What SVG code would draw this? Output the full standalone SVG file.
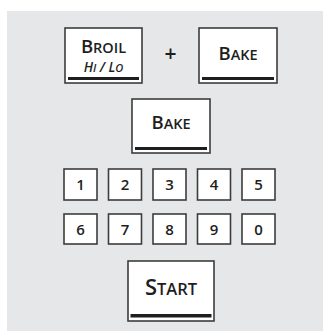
<svg xmlns="http://www.w3.org/2000/svg" width="323" height="331" viewBox="0 0 323 331">
<style>
.key{fill:#ffffff;stroke:#3c3c3c;stroke-width:1.6}
.bar{fill:#1e1e1e}
.t{font-family:"Open Sans","DejaVu Sans",sans-serif;fill:#1e1e1e;text-anchor:middle;font-weight:600}
.n{font-family:"Open Sans","DejaVu Sans",sans-serif;fill:#1e1e1e;text-anchor:middle;font-size:15px;font-weight:600}
</style>
<rect x="0" y="0" width="323" height="331" fill="#ffffff"/>
<rect x="7" y="11" width="316" height="320" fill="#e6e7e9"/>
<g id="broil">
<rect class="key" x="65" y="28" width="77" height="55"/>
<rect class="bar" x="68" y="77" width="71" height="3"/>
<text class="t" x="103.5" y="53"><tspan font-size="18.5">B</tspan><tspan font-size="14.5">ROIL</tspan></text>
<text class="t" x="103.5" y="72" font-style="italic"><tspan font-size="13.5">H</tspan><tspan font-size="11">I</tspan><tspan font-size="13.5"> / L</tspan><tspan font-size="11">O</tspan></text>
</g>
<g id="plus">
<text class="t" x="170.5" y="61" font-size="21" font-weight="bold">+</text>
</g>
<g id="bake1">
<rect class="key" x="199" y="28" width="78" height="55"/>
<rect class="bar" x="202" y="77" width="72" height="3"/>
<text class="t" x="238" y="60"><tspan font-size="18.5">B</tspan><tspan font-size="14.5">AKE</tspan></text>
</g>
<g id="bake2">
<rect class="key" x="132" y="99" width="78" height="54"/>
<rect class="bar" x="135" y="147" width="72" height="3"/>
<text class="t" x="171" y="129"><tspan font-size="18.5">B</tspan><tspan font-size="14.5">AKE</tspan></text>
</g>
<g id="k1"><rect class="key" x="64" y="169" width="33" height="31"/><text class="n" x="80.5" y="190">1</text></g>
<g id="k2"><rect class="key" x="108.5" y="169" width="33" height="31"/><text class="n" x="125" y="190">2</text></g>
<g id="k3"><rect class="key" x="153" y="169" width="33" height="31"/><text class="n" x="169.5" y="190">3</text></g>
<g id="k4"><rect class="key" x="197.5" y="169" width="33" height="31"/><text class="n" x="214" y="190">4</text></g>
<g id="k5"><rect class="key" x="242" y="169" width="33" height="31"/><text class="n" x="258.5" y="190">5</text></g>
<g id="k6"><rect class="key" x="64" y="214" width="33" height="30"/><text class="n" x="80.5" y="234.5">6</text></g>
<g id="k7"><rect class="key" x="108.5" y="214" width="33" height="30"/><text class="n" x="125" y="234.5">7</text></g>
<g id="k8"><rect class="key" x="153" y="214" width="33" height="30"/><text class="n" x="169.5" y="234.5">8</text></g>
<g id="k9"><rect class="key" x="197.5" y="214" width="33" height="30"/><text class="n" x="214" y="234.5">9</text></g>
<g id="k0"><rect class="key" x="242" y="214" width="33" height="30"/><text class="n" x="258.5" y="234.5">0</text></g>
<g id="start">
<rect class="key" x="128" y="261" width="86" height="60"/>
<rect class="bar" x="130.5" y="314" width="81" height="3.5"/>
<text class="t" x="171" y="295"><tspan font-size="22">S</tspan><tspan font-size="16.5">TART</tspan></text>
</g>
<g id="connectors"></g>
</svg>
